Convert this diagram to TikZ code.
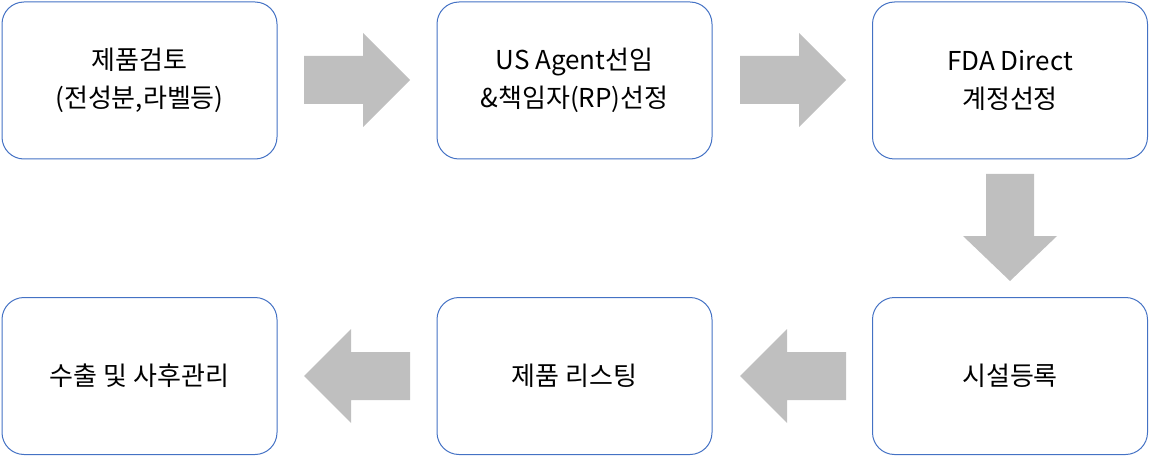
\documentclass[tikz,border=0pt]{standalone}
\usepackage{fontspec}
\setmainfont{Liberation Sans}
\newfontfamily\kr{Noto Sans CJK KR}
\definecolor{bd}{HTML}{4472C4}
\begin{document}
\begin{tikzpicture}[x=1pt,y=-1pt,
 box/.style={draw=bd,line width=1pt,rounded corners=22pt,minimum width=275pt,minimum height=157pt,align=center,font=\fontsize{26}{38}\selectfont\kr},
 arr/.style={fill=black!25,draw=none}]
\useasboundingbox (0,0) rectangle (1150,457);
\node[box] (b1) at (139.5,80.5) {제품검토\\(전성분,라벨등)};
\node[box] (b2) at (574.5,80.5) {US Agent선임\\\&책임자(RP)선정};
\node[box] (b3) at (1010,80.5) {FDA Direct\\계정선정};
\node[box] (b4) at (1010,376) {시설등록};
\node[box] (b5) at (574.5,376) {제품 리스팅};
\node[box] (b6) at (139.5,376) {수출 및 사후관리};
\fill[arr] (304,56) -- (363,56) -- (363,33) -- (410,80) -- (363,127) -- (363,104) -- (304,104) -- cycle;
\fill[arr] (740,56) -- (799,56) -- (799,33) -- (846,80) -- (799,127) -- (799,104) -- (740,104) -- cycle;
\fill[arr] (986,174) -- (1034,174) -- (1034,236) -- (1057,236) -- (1010,281) -- (963,236) -- (986,236) -- cycle;
\fill[arr] (846,352) -- (787,352) -- (787,329) -- (740,376) -- (787,423) -- (787,400) -- (846,400) -- cycle;
\fill[arr] (410,352) -- (351,352) -- (351,329) -- (304,376) -- (351,423) -- (351,400) -- (410,400) -- cycle;
\end{tikzpicture}
\end{document}
